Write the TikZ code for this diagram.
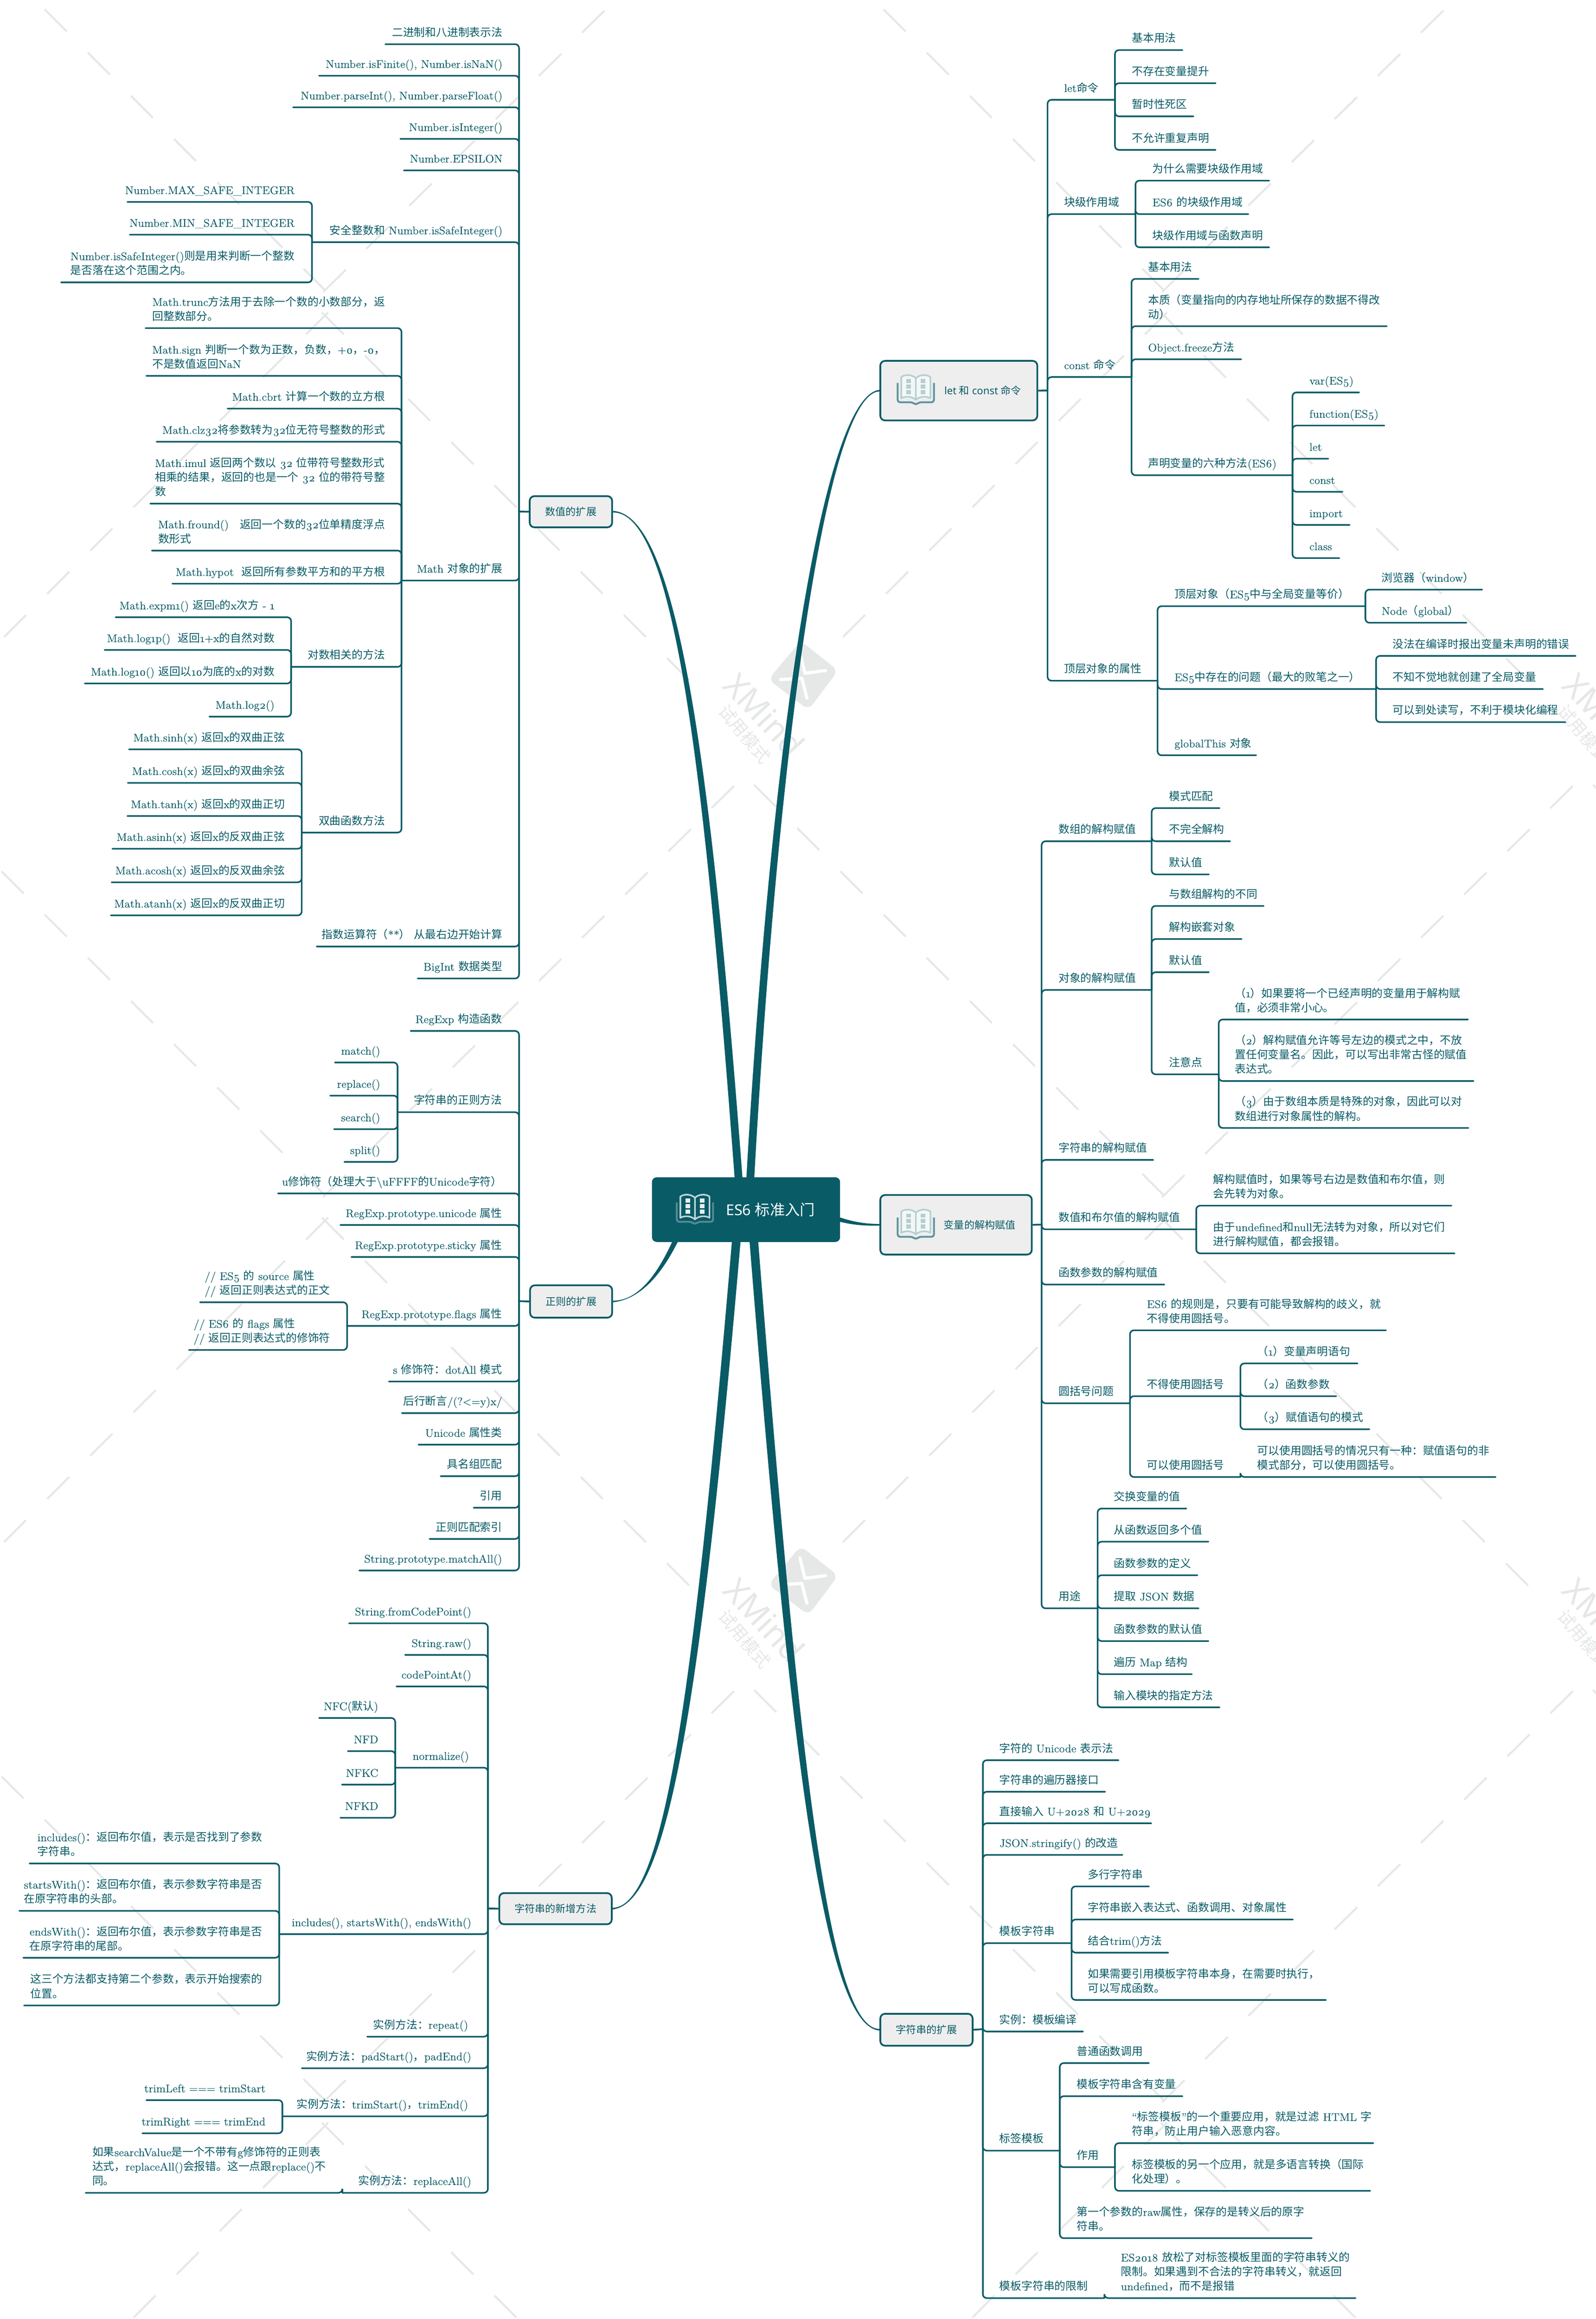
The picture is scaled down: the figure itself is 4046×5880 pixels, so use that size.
\documentclass[tikz,border=0pt]{standalone}
\usepackage{fontspec}
\setmainfont{Latin Modern Roman}[Numbers=OldStyle,FakeStretch=1.04,FakeBold=0.3]
\newfontfamily\cjkf{Noto Sans CJK SC}
\newfontfamily\sansf{Noto Sans}
\def\latincur{\rmfamily}
\XeTeXinterchartokenstate=1
\count255="3000
\loop\XeTeXcharclass\count255=7 \advance\count255 by 1 \ifnum\count255<"A000 \repeat
\count255="FF00
\loop\XeTeXcharclass\count255=7 \advance\count255 by 1 \ifnum\count255<"FFF0 \repeat
\XeTeXcharclass"2018=0 \XeTeXcharclass"2019=0 \XeTeXcharclass"201C=0 \XeTeXcharclass"201D=0
\XeTeXinterchartoks 0 7 = {\cjkf}
\XeTeXinterchartoks 7 0 = {\latincur}
\XeTeXinterchartoks 4095 7 = {\cjkf}
\XeTeXinterchartoks 7 4095 = {\latincur}
\definecolor{mmteal}{RGB}{9,91,102}
\definecolor{mmbg}{RGB}{238,238,238}
\definecolor{wmc}{RGB}{230,232,232}
\pgfdeclarelayer{wmlayer}\pgfdeclarelayer{trunk}
\pgfsetlayers{wmlayer,trunk,main}
\tikzset{
 txt/.style={inner sep=0pt,outer sep=0pt,align=left,text=mmteal,font=\fontsize{14pt}{18.25pt}\selectfont},
 conn/.style={draw=mmteal,line width=2pt,rounded corners=5pt,line cap=round},
 stub/.style={draw=mmteal,line width=2.2pt},
 mmbox/.style={draw=mmteal,line width=2.2pt,fill=mmbg,rounded corners=6pt,inner sep=0pt,text=mmteal,
   font=\fontsize{13pt}{16pt}\selectfont\def\latincur{\sansf}\sansf},
 rootbox/.style={fill=mmteal,rounded corners=6pt,inner sep=0pt,text=white,
   font=\fontsize{19pt}{23pt}\selectfont\def\latincur{\sansf}\sansf},
 wm/.style={draw=wmc,line width=2.5pt},
 trunkfill/.style={fill=mmteal},
}
\newcommand\LT[6]{\node[txt,anchor=base east] (#1) at (#5,#4-20) {#6};
 \coordinate (#1-l) at (#3,#4);
 \draw[conn] (#1-l) -| (#2-l);}
\newcommand\RT[6]{\node[txt,anchor=base west] (#1) at (#5,#4-20) {#6};
 \coordinate (#1-r) at (#3,#4);
 \draw[conn] (#1-r) -| (#2-r);}
\newcommand\BX[7]{\node[#1,minimum width={(#5-#3)*0.5pt},minimum height={(#6-#4)*0.5pt}] (#2) at ({(#3+#5)/2},{(#4+#6)/2}) {#7};}
\newcommand\taper[8]{\begin{pgfonlayer}{trunk}\fill[trunkfill] ([yshift=#8*1pt]#1) .. controls ({#2-#7*.55},{#3+#8*#7*.4}) and ({#4-#7*.95},{#5}) .. ([xshift={(#6-#7)*0.5pt}]root.center) -- ([xshift={(#6+#7)*0.5pt}]root.center) .. controls ({#4+#7*.95},{#5}) and ({#2+#7*.55},{#3-#8*#7*.4}) .. ([yshift=-#8*1pt]#1) -- cycle;\end{pgfonlayer}}
\newcommand\bookicon[6]{\begin{scope}[shift={(#1,#2)}]
 \draw[line width=2.4pt,draw=#6,line join=round,rounded corners=3pt] (-46,-18) -- (-46,31) -- (-8,31) -- (0,38) -- (8,31) -- (46,31) -- (46,-18);
 \draw[line width=2pt,draw=#4,fill=#3,line join=round] (0,-30) .. controls (-10,-40) and (-28,-40) .. (-37,-33) -- (-37,21) .. controls (-28,15) and (-10,15) .. (0,25) .. controls (10,15) and (28,15) .. (37,21) -- (37,-33) .. controls (28,-40) and (10,-40) .. (0,-30) -- (0,25);
 \foreach \dx in {-18,18} \foreach \dy in {-23,-9,5} {\fill[#5] ({\dx-6},{\dy-5}) rectangle ++(12,10);}
 \end{scope}}
\begin{document}
\begin{tikzpicture}[x=0.5pt,y=-0.5pt]
\useasboundingbox (0,0) rectangle (4046,5880);
\begin{pgfonlayer}{wmlayer}
\fill[white] (0,0) rectangle (4046,5880);
\begin{scope}
\clip (0,0) rectangle (4046,5880);
\foreach \i in {0,1,2} \foreach \j in {0,1,2} {
 \pgfmathsetmacro\ox{\i*2127}\pgfmathsetmacro\oy{\j*2295}
 \foreach \k in {0,...,9} {
  \draw[wm] ({\ox-215+109.4*\k},{\oy-305+109.6*\k}) -- ++(56,56);
  \draw[wm] ({\ox+1861-109.4*\k},{\oy-302+109.6*\k}) -- ++(-57,56);
 }
 \foreach \k in {0,...,8} {
  \draw[wm] ({\ox+832-109.4*\k},{\oy+792+109.6*\k}) -- ++(-56,56);
  \draw[wm] ({\ox+816+109.4*\k},{\oy+792+109.6*\k}) -- ++(56,56);
 }
}
\foreach \i in {0,1} \foreach \j in {0,1} {
 \pgfmathsetmacro\ox{\i*2127}\pgfmathsetmacro\oy{\j*2295}
 \fill[wmc,rounded corners=9pt] ({\ox+2030},{\oy+1625}) -- ({\ox+2125},{\oy+1700}) -- ({\ox+2050},{\oy+1800}) -- ({\ox+1948},{\oy+1723}) -- cycle;
 \draw[white,line width=4pt,line cap=round,line join=round] ({\ox+2028},{\oy+1655}) -- ({\ox+2041},{\oy+1707}) -- ({\ox+2093},{\oy+1700});
 \draw[white,line width=4pt,line cap=round,line join=round] ({\ox+1979},{\oy+1723}) -- ({\ox+2033},{\oy+1720}) -- ({\ox+2046},{\oy+1770});
 \node[rotate=-47,text=wmc,inner sep=0pt,font=\fontsize{42pt}{42pt}\selectfont\sansf\bfseries] (wmx\i\j) at ({\ox+1938},{\oy+1812}) {XMind};
 \node[rotate=-50,text=wmc,inner sep=0pt,font=\fontsize{22pt}{22pt}\selectfont\cjkf] (wms\i\j) at ({\ox+1888},{\oy+1861}) {试用模式};
}
\end{scope}
\end{pgfonlayer}
% root and level-1 boxes
\BX{rootbox}{root}{1653}{2985}{2130}{3149}{\hspace*{62pt}ES6 标准入门}
\BX{mmbox}{bnum}{1343}{1258}{1552}{1337}{数值的扩展}
\BX{mmbox}{brex}{1344}{3259}{1552}{3341}{正则的扩展}
\BX{mmbox}{bsn}{1266}{4800}{1551}{4879}{字符串的新增方法}
\BX{mmbox}{blet}{2232}{915}{2630}{1066}{\hspace*{61pt}let 和 const 命令}
\BX{mmbox}{bvar}{2232}{3030}{2616}{3181}{\hspace*{60pt}变量的解构赋值}
\BX{mmbox}{bext}{2232}{5106}{2466}{5187}{字符串的扩展}
\bookicon{1762}{3067}{mmteal}{white!75!mmteal}{white!90!mmteal}{white!30!mmteal}
\bookicon{2322}{989}{white!95!mmteal}{white!70!mmteal}{white!70!mmteal}{white!35!mmteal}
\bookicon{2322}{3105}{white!95!mmteal}{white!70!mmteal}{white!70!mmteal}{white!35!mmteal}
\taper{bnum.east}{1720}{1300}{1800}{2000}{-13}{10}{-1}
\taper{blet.west}{2090}{1000}{1960}{1900}{6.5}{10}{1}
\taper{brex.east}{1640}{3295}{1700}{3190}{-146}{8}{1}
\taper{bsn.east}{1690}{4830}{1770}{4300}{-18}{11}{1}
\taper{bext.west}{2090}{5140}{2010}{4400}{13.5}{11}{-1}
\begin{pgfonlayer}{trunk}
\fill[trunkfill] ([yshift=1pt]bvar.west) .. controls (2195,3103) and (2160,3100) .. (2100,3076) -- (2100,3090) .. controls (2160,3108) and (2195,3108) .. ([yshift=-1pt]bvar.west) -- cycle;
\end{pgfonlayer}
% numbers
\coordinate (bnum-l) at (1316,1297);
\draw[stub] (bnum.west) -- (bnum-l);
\LT{na}{bnum}{977}{112}{1274}{二进制和八进制表示法}
\LT{nb}{bnum}{809}{192}{1274}{Number.isFinite(), Number.isNaN()}
\LT{nc}{bnum}{743}{272}{1274}{Number.parseInt(), Number.parseFloat()}
\LT{nd}{bnum}{1015}{352}{1274}{Number.isInteger()}
\LT{ne}{bnum}{1024}{432}{1274}{Number.EPSILON}
\LT{nf}{bnum}{791}{614}{1274}{安全整数和 Number.isSafeInteger()}
\LT{nfa}{nf}{323}{512}{747}{Number.MAX\_SAFE\_INTEGER}
\LT{nfb}{nf}{329}{595}{747}{Number.MIN\_SAFE\_INTEGER}
\LT{nfc}{nf}{155}{716}{747}{Number.isSafeInteger()则是用来判断一个整数\\是否落在这个范围之内。}
\LT{ng}{bnum}{1018}{1472}{1274}{Math 对象的扩展}
\LT{ga}{ng}{369}{832}{976}{Math.trunc方法用于去除一个数的小数部分，返\\回整数部分。}
\LT{gb}{ng}{371}{953}{976}{Math.sign 判断一个数为正数，负数，+0，-0，\\不是数值返回NaN}
\LT{gc}{ng}{577}{1036}{976}{Math.cbrt 计算一个数的立方根}
\LT{gd}{ng}{397}{1120}{976}{Math.clz32将参数转为32位无符号整数的形式}
\LT{ge}{ng}{381}{1277}{976}{Math.imul 返回两个数以 32 位带符号整数形式\\相乘的结果，返回的也是一个 32 位的带符号整\\数}
\LT{gf}{ng}{385}{1396}{976}{Math.fround()　返回一个数的32位单精度浮点\\数形式}
\LT{gg}{ng}{437}{1480}{976}{Math.hypot~~返回所有参数平方和的平方根}
\LT{gh}{ng}{738}{1691}{976}{对数相关的方法}
\LT{ha}{gh}{293}{1565}{696}{Math.expm1() 返回e的x次方 - 1}
\LT{hb}{gh}{265}{1648}{696}{Math.log1p()~~返回1+x的自然对数}
\LT{hc}{gh}{215}{1733}{696}{Math.log10() 返回以10为底的x的对数}
\LT{hd}{gh}{531}{1817}{696}{Math.log2()}
\LT{gi}{ng}{765}{2111}{976}{双曲函数方法}
\LT{ia}{gi}{327}{1900}{722}{Math.sinh(x) 返回x的双曲正弦}
\LT{ib}{gi}{324}{1985}{722}{Math.cosh(x) 返回x的双曲余弦}
\LT{ic}{gi}{323}{2069}{722}{Math.tanh(x) 返回x的双曲正切}
\LT{id}{gi}{285}{2152}{722}{Math.asinh(x) 返回x的反双曲正弦}
\LT{ie}{gi}{283}{2237}{722}{Math.acosh(x) 返回x的反双曲余弦}
\LT{if}{gi}{281}{2321}{722}{Math.atanh(x) 返回x的反双曲正切}
\LT{nh}{bnum}{803}{2400}{1274}{指数运算符（**）~从最右边开始计算}
\LT{ni}{bnum}{1059}{2481}{1274}{BigInt 数据类型}
% regexp
\coordinate (brex-l) at (1316,3299);
\draw[stub] (brex.west) -- (brex-l);
\LT{ra}{brex}{1041}{2614}{1273}{RegExp 构造函数}
\LT{rb}{brex}{1008}{2820}{1273}{字符串的正则方法}
\LT{rba}{rb}{849}{2694}{964}{match()}
\LT{rbb}{rb}{837}{2778}{964}{replace()}
\LT{rbc}{rb}{847}{2863}{964}{search()}
\LT{rbd}{rb}{873}{2946}{964}{split()}
\LT{rc}{brex}{705}{3026}{1273}{u修饰符（处理大于\textbackslash uFFFF的Unicode字符）}
\LT{rd}{brex}{863}{3106}{1273}{RegExp.prototype.unicode 属性}
\LT{re}{brex}{891}{3187}{1273}{RegExp.prototype.sticky 属性}
\LT{rf}{brex}{880}{3362}{1273}{RegExp.prototype.flags 属性}
\LT{rfa}{rf}{507}{3302}{837}{// ES5 的 source 属性\\// 返回正则表达式的正文}
\LT{rfb}{rf}{479}{3423}{837}{// ES6 的 flags 属性\\// 返回正则表达式的修饰符}
\LT{rg}{brex}{986}{3503}{1273}{s 修饰符：dotAll 模式}
\LT{rh}{brex}{1019}{3583}{1273}{后行断言/(?<=y)x/}
\LT{ri}{brex}{1061}{3663}{1273}{Unicode 属性类}
\LT{rj}{brex}{1117}{3743}{1273}{具名组匹配}
\LT{rk}{brex}{1201}{3823}{1273}{引用}
\LT{rl}{brex}{1089}{3902}{1273}{正则匹配索引}
\LT{rm}{brex}{911}{3982}{1273}{String.prototype.matchAll()}
% string new methods
\coordinate (bsn-l) at (1237,4839);
\draw[stub] (bsn.west) -- (bsn-l);
\LT{sa}{bsn}{885}{4116}{1195}{String.fromCodePoint()}
\LT{sb}{bsn}{1027}{4196}{1195}{String.raw()}
\LT{sc}{bsn}{1005}{4276}{1195}{codePointAt()}
\LT{sd}{bsn}{1002}{4482}{1189}{normalize()}
\LT{sda}{sd}{809}{4356}{959}{NFC(默认)}
\LT{sdb}{sd}{882}{4440}{959}{NFD}
\LT{sdc}{sd}{867}{4525}{959}{NFKC}
\LT{sdd}{sd}{863}{4609}{959}{NFKD}
\LT{se}{bsn}{708}{4904}{1195}{includes(), startsWith(), endsWith()}
\LT{sea}{se}{75}{4725}{665}{includes()：返回布尔值，表示是否找到了参数\\字符串。}
\LT{seb}{se}{49}{4845}{665}{startsWith()：返回布尔值，表示参数字符串是否\\在原字符串的头部。}
\LT{sec}{se}{59}{4964}{665}{endsWith()：返回布尔值，表示参数字符串是否\\在原字符串的尾部。}
\LT{sed}{se}{61}{5085}{665}{这三个方法都支持第二个参数，表示开始搜索的\\位置。}
\LT{sf}{bsn}{931}{5164}{1187}{实例方法：repeat()}
\LT{sg}{bsn}{765}{5244}{1195}{实例方法：padStart()，padEnd()}
\LT{sh}{bsn}{716}{5366}{1187}{实例方法：trimStart()，trimEnd()}
\LT{sha}{sh}{371}{5325}{673}{trimLeft === trimStart}
\LT{shb}{sh}{361}{5409}{673}{trimRight === trimEnd}
\LT{si}{bsn}{868}{5560}{1195}{实例方法：replaceAll()}
\LT{sia}{si}{217}{5560}{826}{如果searchValue是一个不带有g修饰符的正则表\\达式，replaceAll()会报错。这一点跟replace()不\\同。}
% let and const
\coordinate (blet-r) at (2656,990);
\draw[stub] (blet.east) -- (blet-r);
\RT{la}{blet}{2827}{253}{2698}{let命令}
\RT{laa}{la}{2998}{127}{2870}{基本用法}
\RT{lab}{la}{3082}{211}{2870}{不存在变量提升}
\RT{lac}{la}{3026}{295}{2870}{暂时性死区}
\RT{lad}{la}{3082}{380}{2870}{不允许重复声明}
\RT{lb}{blet}{2879}{543}{2698}{块级作用域}
\RT{lba}{lb}{3218}{458}{2922}{为什么需要块级作用域}
\RT{lbb}{lb}{3165}{543}{2922}{ES6 的块级作用域}
\RT{lbc}{lb}{3218}{627}{2922}{块级作用域与函数声明}
\RT{lc}{blet}{2869}{956}{2698}{const 命令}
\RT{lca}{lc}{3039}{707}{2911}{基本用法}
\RT{lcb}{lc}{3516}{827}{2911}{本质（变量指向的内存地址所保存的数据不得改\\动）}
\RT{lcc}{lc}{3147}{911}{2911}{Object.freeze方法}
\RT{lcd}{lc}{3277}{1205}{2911}{声明变量的六种方法(ES6)}
\RT{lda}{lcd}{3446}{995}{3320}{var(ES5)}
\RT{ldb}{lcd}{3510}{1079}{3320}{function(ES5)}
\RT{ldc}{lcd}{3368}{1163}{3320}{let}
\RT{ldd}{lcd}{3404}{1247}{3320}{const}
\RT{lde}{lcd}{3422}{1331}{3320}{import}
\RT{ldf}{lcd}{3396}{1415}{3320}{class}
\RT{ld}{blet}{2935}{1726}{2698}{顶层对象的属性}
\RT{lea}{ld}{3462}{1537}{2978}{顶层对象（ES5中与全局变量等价）}
\RT{lfa}{lea}{3758}{1495}{3503}{浏览器（window）}
\RT{lfb}{lea}{3718}{1579}{3503}{Node（global）}
\RT{leb}{ld}{3489}{1747}{2978}{ES5中存在的问题（最大的败笔之一）}
\RT{lga}{leb}{3995}{1663}{3531}{没法在编译时报出变量未声明的错误}
\RT{lgb}{leb}{3912}{1747}{3531}{不知不觉地就创建了全局变量}
\RT{lgc}{leb}{3969}{1831}{3531}{可以到处读写，不利于模块化编程}
\RT{lec}{ld}{3185}{1915}{2978}{globalThis 对象}
% destructuring
\coordinate (bvar-r) at (2641,3105);
\draw[stub] (bvar.east) -- (bvar-r);
\RT{va}{bvar}{2920}{2133}{2684}{数组的解构赋值}
\RT{vaa}{va}{3092}{2049}{2964}{模式匹配}
\RT{vab}{va}{3119}{2133}{2964}{不完全解构}
\RT{vac}{va}{3065}{2217}{2964}{默认值}
\RT{vb}{bvar}{2920}{2510}{2684}{对象的解构赋值}
\RT{vba}{vb}{3204}{2297}{2964}{与数组解构的不同}
\RT{vbb}{vb}{3148}{2381}{2964}{解构嵌套对象}
\RT{vbc}{vb}{3065}{2465}{2964}{默认值}
\RT{vbd}{vb}{3090}{2724}{2964}{注意点}
\RT{vca}{vbd}{3722}{2585}{3131}{（1）如果要将一个已经声明的变量用于解构赋\\值，必须非常小心。}
\RT{vcb}{vbd}{3736}{2741}{3131}{（2）解构赋值允许等号左边的模式之中，不放\\置任何变量名。因此，可以写出非常古怪的赋值\\表达式。}
\RT{vcc}{vbd}{3723}{2860}{3131}{（3）由于数组本质是特殊的对象，因此可以对\\数组进行对象属性的解构。}
\RT{vd}{bvar}{2924}{2941}{2684}{字符串的解构赋值}
\RT{ve}{bvar}{3033}{3117}{2684}{数值和布尔值的解构赋值}
\RT{vea}{ve}{3680}{3057}{3076}{解构赋值时，如果等号右边是数值和布尔值，则\\会先转为对象。}
\RT{veb}{ve}{3688}{3178}{3076}{由于undefined和null无法转为对象，所以对它们\\进行解构赋值，都会报错。}
\RT{vf}{bvar}{2952}{3257}{2684}{函数参数的解构赋值}
\RT{vg}{bvar}{2865}{3558}{2684}{圆括号问题}
\RT{vga}{vg}{3514}{3373}{2908}{ES6 的规则是，只要有可能导致解构的歧义，就\\不得使用圆括号。}
\RT{vgb}{vg}{3145}{3540}{2908}{不得使用圆括号}
\RT{vha}{vgb}{3442}{3457}{3188}{（1）变量声明语句}
\RT{vhb}{vgb}{3388}{3540}{3188}{（2）函数参数}
\RT{vhc}{vgb}{3472}{3624}{3188}{（3）赋值语句的模式}
\RT{vgc}{vg}{3145}{3745}{2908}{可以使用圆括号}
\RT{vgd}{vgc}{3792}{3745}{3188}{可以使用圆括号的情况只有一种：赋值语句的非\\模式部分，可以使用圆括号。}
\RT{vi}{bvar}{2783}{4078}{2684}{用途}
\RT{via}{vi}{3008}{3825}{2824}{交换变量的值}
\RT{vib}{vi}{3064}{3909}{2824}{从函数返回多个值}
\RT{vic}{vi}{3036}{3994}{2824}{函数参数的定义}
\RT{vid}{vi}{3039}{4078}{2824}{提取 JSON 数据}
\RT{vie}{vi}{3064}{4161}{2824}{函数参数的默认值}
\RT{vif}{vi}{3022}{4245}{2824}{遍历 Map 结构}
\RT{vig}{vi}{3092}{4329}{2824}{输入模块的指定方法}
% strings
\coordinate (bext-r) at (2492,5145);
\draw[stub] (bext.east) -- (bext-r);
\RT{ea}{bext}{2836}{4463}{2534}{字符的 Unicode 表示法}
\RT{eb}{bext}{2802}{4543}{2534}{字符串的遍历器接口}
\RT{ec}{bext}{2919}{4623}{2534}{直接输入 U+2028 和 U+2029}
\RT{ed}{bext}{2846}{4703}{2534}{JSON.stringify() 的改造}
\RT{ee}{bext}{2717}{4927}{2534}{模板字符串}
\RT{eea}{ee}{2913}{4783}{2758}{多行字符串}
\RT{eeb}{ee}{3278}{4867}{2758}{字符串嵌入表达式、函数调用、对象属性}
\RT{eec}{ee}{2962}{4951}{2758}{结合trim()方法}
\RT{eed}{ee}{3362}{5071}{2758}{如果需要引用模板字符串本身，在需要时执行，\\可以写成函数。}
\RT{ef}{bext}{2746}{5151}{2534}{实例：模板编译}
\RT{eg}{bext}{2687}{5453}{2534}{标签模板}
\RT{ega}{eg}{2913}{5231}{2730}{普通函数调用}
\RT{egb}{eg}{2998}{5315}{2730}{模板字符串含有变量}
\RT{egc}{eg}{2827}{5495}{2730}{作用}
\RT{eha}{egc}{3482}{5434}{2870}{“标签模板”的一个重要应用，就是过滤 HTML 字\\符串，防止用户输入恶意内容。}
\RT{ehb}{egc}{3474}{5555}{2870}{标签模板的另一个应用，就是多语言转换（国际\\化处理）。}
\RT{egd}{eg}{3326}{5675}{2730}{第一个参数的raw属性，保存的是转义后的原字\\符串。}
\RT{eh}{bext}{2800}{5827}{2534}{模板字符串的限制}
\RT{eia}{eh}{3437}{5827}{2842}{ES2018 放松了对标签模板里面的字符串转义的\\限制。如果遇到不合法的字符串转义，就返回\\undefined，而不是报错}
\end{tikzpicture}
\end{document}
